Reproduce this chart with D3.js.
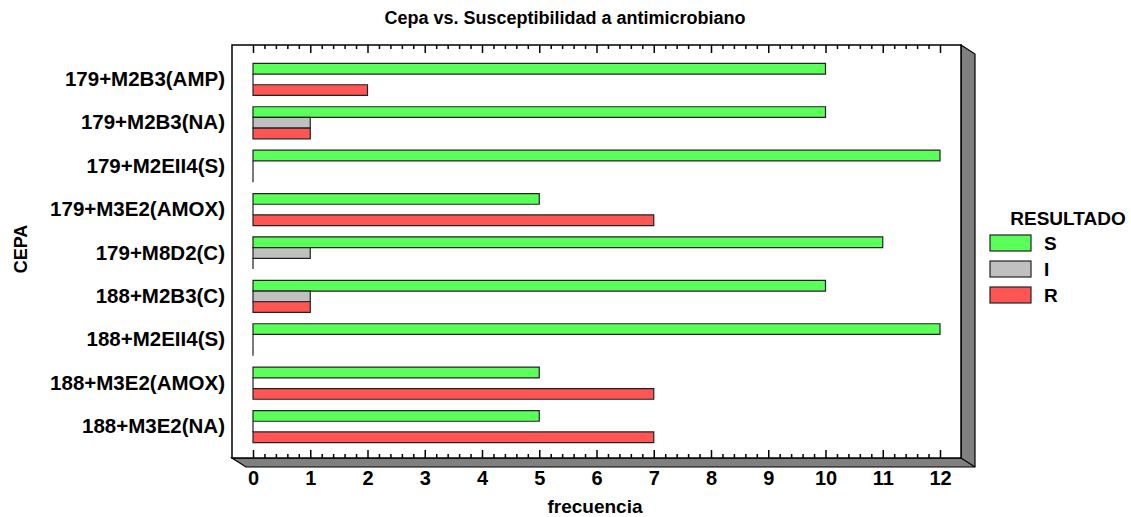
<!DOCTYPE html>
<html>
<head>
<meta charset="utf-8">
<script src="https://cdn.jsdelivr.net/npm/d3@7"></script>
<style>
  html, body { margin: 0; padding: 0; background: #fff; }
  svg { display: block; }
  text { font-family: "Liberation Sans", Arial, sans-serif; font-weight: bold; fill: #000; }
</style>
</head>
<body>
<svg id="chart" width="1131" height="517"></svg>
<script>
// ---- data ----
const categories = [
  "179+M2B3(AMP)", "179+M2B3(NA)", "179+M2EII4(S)", "179+M3E2(AMOX)", "179+M8D2(C)",
  "188+M2B3(C)", "188+M2EII4(S)", "188+M3E2(AMOX)", "188+M3E2(NA)"
];
const seriesNames = ["S", "I", "R"];
const valuesS = [10, 10, 12, 5, 11, 10, 12, 5, 5];
const valuesI = [0, 1, 0, 0, 1, 1, 0, 0, 0];
const valuesR = [2, 1, 0, 7, 0, 1, 0, 7, 7];
const seriesColors = ["#5aff5a", "#c0c0c0", "#ff5555"];
const xTickValues = [0, 1, 2, 3, 4, 5, 6, 7, 8, 9, 10, 11, 12];
const titleText = "Cepa vs. Susceptibilidad a antimicrobiano";
const xTitle = "frecuencia";
const yTitle = "CEPA";
const legendTitle = "RESULTADO";

const seriesValues = [valuesS, valuesI, valuesR];

// ---- layout ----
const svg = d3.select("#chart");
const frame = { left: 232, top: 45, right: 961, bottom: 458 };
const depth = { dx: 14, dy: 9 };

const x = d3.scaleLinear().domain([0, 12]).range([253, 940]);
const y = d3.scaleBand().domain(categories).range([46.5, 459.5]).paddingInner(0.26).paddingOuter(0.388);
const ySub = d3.scaleBand().domain(seriesNames).range([0, y.bandwidth()]);

// shadow (3D depth)
svg.append("path")
  .attr("d", `M${frame.right},${frame.top} L${frame.right + depth.dx},${frame.top + depth.dy} L${frame.right + depth.dx},${frame.bottom + depth.dy} L${frame.left + depth.dx},${frame.bottom + depth.dy} L${frame.left},${frame.bottom} L${frame.right},${frame.bottom} Z`)
  .attr("fill", "#808080").attr("stroke", "#000").attr("stroke-width", 1.2);
svg.append("line")
  .attr("x1", frame.right).attr("y1", frame.bottom)
  .attr("x2", frame.right + depth.dx).attr("y2", frame.bottom + depth.dy)
  .attr("stroke", "#000").attr("stroke-width", 1.2);

// frame
svg.append("rect")
  .attr("x", frame.left).attr("y", frame.top)
  .attr("width", frame.right - frame.left).attr("height", frame.bottom - frame.top)
  .attr("fill", "#fff").attr("stroke", "#000").attr("stroke-width", 1.5);

// ticks
const minorTicks = d3.range(0, 60).map(i => i / 5).filter(v => Math.abs(v - Math.round(v)) > 1e-6);
function tickAxis(axisFn, yPos, vals, size) {
  const g = svg.append("g").attr("transform", `translate(0,${yPos})`)
    .call(axisFn(x).tickValues(vals).tickSize(size).tickFormat(""));
  g.select(".domain").remove();
  g.selectAll("line").attr("stroke", "#000").attr("stroke-width", 1.5);
}
tickAxis(d3.axisTop, frame.bottom, xTickValues, 8);
tickAxis(d3.axisTop, frame.bottom, minorTicks, 4);
tickAxis(d3.axisBottom, frame.top, xTickValues, 8);
tickAxis(d3.axisBottom, frame.top, minorTicks, 4);

// x tick labels
const xl = svg.append("g").attr("transform", `translate(0,${frame.bottom})`)
  .call(d3.axisBottom(x).tickValues(xTickValues).tickSize(0).tickPadding(13).tickFormat(d3.format("d")));
xl.select(".domain").remove();
xl.selectAll("text").style("font-size", "20px").style("font-family", "'Liberation Sans', Arial, sans-serif").style("font-weight", "bold");

// y labels
const yl = svg.append("g").attr("transform", `translate(${frame.left},0)`)
  .call(d3.axisLeft(y).tickSize(0).tickPadding(7));
yl.select(".domain").remove();
yl.selectAll("text").style("font-size", "20.5px").style("font-family", "'Liberation Sans', Arial, sans-serif").style("font-weight", "bold");

// bars
const barData = [];
categories.forEach((c, ci) => {
  seriesNames.forEach((s, si) => {
    barData.push({ cat: c, series: s, value: seriesValues[si][ci], color: seriesColors[si] });
  });
});
svg.append("g").selectAll("path").data(barData).join("path")
  .attr("d", d => {
    const x0 = x(0), x1 = x(d.value);
    const y0 = y(d.cat) + ySub(d.series), y1 = y0 + ySub.bandwidth();
    return `M${x0},${y0} H${x1} V${y1} H${x0} Z`;
  })
  .attr("fill", d => d.color)
  .attr("stroke", "#222").attr("stroke-width", 1.2);

// title
svg.append("text").attr("x", 565).attr("y", 24).attr("text-anchor", "middle")
  .style("font-size", "18px").text(titleText);
// x title
svg.append("text").attr("x", 595).attr("y", 513).attr("text-anchor", "middle")
  .style("font-size", "19px").text(xTitle);
// y title
svg.append("text").attr("transform", "translate(27,249) rotate(-90)").attr("text-anchor", "middle")
  .style("font-size", "18px").text(yTitle);

// legend
const lg = svg.append("g");
lg.append("text").attr("x", 1068).attr("y", 225).attr("text-anchor", "middle")
  .style("font-size", "19px").text(legendTitle);
const legY = d3.scaleBand().domain(seriesNames).range([230, 308]);
seriesNames.forEach((s, i) => {
  lg.append("rect").attr("x", 990).attr("y", legY(s) + 5).attr("width", 41).attr("height", 16)
    .attr("fill", seriesColors[i]).attr("stroke", "#222").attr("stroke-width", 1.2);
  lg.append("text").attr("x", 1044).attr("y", legY(s) + 13).attr("dy", "0.35em")
    .style("font-size", "19px").text(s);
});
</script>
</body>
</html>
